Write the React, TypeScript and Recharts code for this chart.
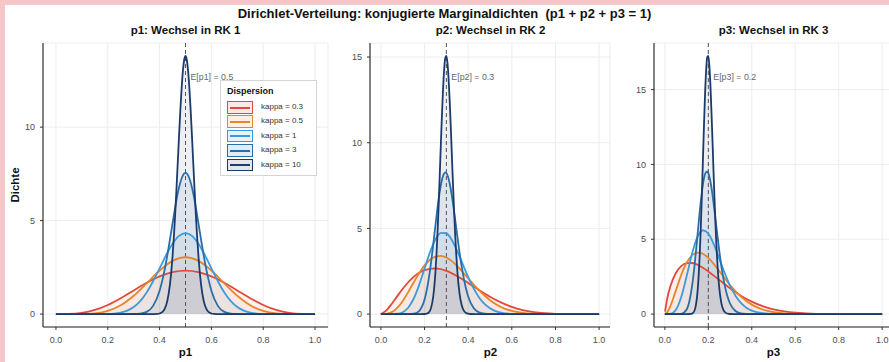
import { ComposedChart, Area, Line, XAxis, YAxis, CartesianGrid, ReferenceLine } from 'recharts';

type Pt = [number, number];

const SERIES_KEYS = ['k03', 'k05', 'k1', 'k3', 'k10'];
const SERIES_LABELS = ['kappa = 0.3', 'kappa = 0.5', 'kappa = 1', 'kappa = 3', 'kappa = 10'];
const SERIES_COLORS = ['#e2493b', '#e5862a', '#3b9bdc', '#2a6ea8', '#1c3a6b'];
const X_TICKS = [0, 0.2, 0.4, 0.6, 0.8, 1];

// p1: Wechsel in RK 1 (Mittelwert 0.5)
const p1_k03: Pt[] = [[0, 0], [0.05, 0.007], [0.1, 0.065], [0.15, 0.221], [0.2, 0.488], [0.25, 0.851], [0.3, 1.265], [0.35, 1.674], [0.4, 2.018], [0.45, 2.247], [0.5, 2.328], [0.55, 2.247], [0.6, 2.018], [0.65, 1.674], [0.7, 1.265], [0.75, 0.851], [0.8, 0.488], [0.85, 0.221], [0.9, 0.065], [0.95, 0.007], [1, 0]];
const p1_k05: Pt[] = [[0, 0], [0.05, 0], [0.1, 0.004], [0.15, 0.038], [0.2, 0.167], [0.25, 0.469], [0.3, 0.979], [0.35, 1.646], [0.4, 2.331], [0.45, 2.847], [0.5, 3.039], [0.55, 2.847], [0.6, 2.331], [0.65, 1.646], [0.7, 0.979], [0.75, 0.469], [0.8, 0.167], [0.85, 0.038], [0.9, 0.004], [0.95, 0], [1, 0]];
const p1_k1: Pt[] = [[0, 0], [0.15, 0], [0.2, 0.008], [0.225, 0.028], [0.25, 0.077], [0.275, 0.183], [0.3, 0.378], [0.325, 0.696], [0.35, 1.158], [0.375, 1.756], [0.4, 2.447], [0.425, 3.152], [0.45, 3.765], [0.475, 4.185], [0.5, 4.334], [0.525, 4.185], [0.55, 3.765], [0.575, 3.152], [0.6, 2.447], [0.625, 1.756], [0.65, 1.158], [0.675, 0.696], [0.7, 0.378], [0.725, 0.183], [0.75, 0.077], [0.775, 0.028], [0.8, 0.008], [0.85, 0], [1, 0]];
const p1_k3: Pt[] = [[0, 0], [0.25, 0], [0.3, 0.004], [0.325, 0.024], [0.35, 0.119], [0.375, 0.441], [0.4, 1.252], [0.4125, 1.921], [0.425, 2.774], [0.4375, 3.775], [0.45, 4.851], [0.4625, 5.89], [0.475, 6.762], [0.4875, 7.345], [0.5, 7.549], [0.5125, 7.345], [0.525, 6.762], [0.5375, 5.89], [0.55, 4.851], [0.5625, 3.775], [0.575, 2.774], [0.5875, 1.921], [0.6, 1.252], [0.625, 0.441], [0.65, 0.119], [0.675, 0.024], [0.7, 0.004], [0.75, 0], [1, 0]];
const p1_k10: Pt[] = [[0, 0], [0.36, 0], [0.38, 0.002], [0.39, 0.009], [0.4, 0.032], [0.41, 0.102], [0.42, 0.29], [0.43, 0.723], [0.44, 1.591], [0.445, 2.251], [0.45, 3.089], [0.455, 4.11], [0.46, 5.305], [0.465, 6.642], [0.47, 8.068], [0.475, 9.509], [0.48, 10.877], [0.485, 12.074], [0.49, 13.009], [0.495, 13.603], [0.5, 13.808], [0.505, 13.603], [0.51, 13.009], [0.515, 12.074], [0.52, 10.877], [0.525, 9.509], [0.53, 8.068], [0.535, 6.642], [0.54, 5.305], [0.545, 4.11], [0.55, 3.089], [0.555, 2.251], [0.56, 1.591], [0.57, 0.723], [0.58, 0.29], [0.59, 0.102], [0.6, 0.032], [0.61, 0.009], [0.62, 0.002], [0.64, 0], [1, 0]];

// p2: Wechsel in RK 2 (Mittelwert 0.3)
const p2_k03: Pt[] = [[0, 0], [0.025, 0.214], [0.05, 0.605], [0.075, 1.047], [0.1, 1.476], [0.125, 1.858], [0.15, 2.173], [0.175, 2.41], [0.2, 2.57], [0.25, 2.667], [0.3, 2.523], [0.35, 2.213], [0.4, 1.817], [0.45, 1.4], [0.5, 1.01], [0.55, 0.68], [0.6, 0.422], [0.65, 0.238], [0.7, 0.119], [0.75, 0.051], [0.8, 0.017], [0.85, 0.004], [0.9, 0.001], [0.95, 0], [1, 0]];
const p2_k05: Pt[] = [[0, 0], [0.025, 0.013], [0.05, 0.114], [0.075, 0.364], [0.1, 0.769], [0.125, 1.284], [0.15, 1.846], [0.175, 2.384], [0.2, 2.84], [0.225, 3.173], [0.25, 3.359], [0.275, 3.398], [0.3, 3.302], [0.325, 3.093], [0.35, 2.801], [0.375, 2.457], [0.4, 2.09], [0.45, 1.381], [0.5, 0.807], [0.55, 0.414], [0.6, 0.183], [0.65, 0.068], [0.7, 0.021], [0.75, 0.005], [0.8, 0.001], [0.85, 0], [1, 0]];
const p2_k1: Pt[] = [[0, 0], [0.025, 0], [0.05, 0.001], [0.075, 0.019], [0.1, 0.11], [0.125, 0.372], [0.15, 0.895], [0.175, 1.691], [0.2, 2.66], [0.225, 3.617], [0.25, 4.361], [0.275, 4.745], [0.3, 4.718], [0.325, 4.325], [0.35, 3.678], [0.375, 2.915], [0.4, 2.159], [0.425, 1.497], [0.45, 0.972], [0.475, 0.591], [0.5, 0.336], [0.525, 0.178], [0.55, 0.088], [0.6, 0.017], [0.65, 0.002], [0.7, 0], [1, 0]];
const p2_k3: Pt[] = [[0, 0], [0.1, 0], [0.125, 0.001], [0.15, 0.021], [0.175, 0.179], [0.1875, 0.418], [0.2, 0.856], [0.2125, 1.56], [0.225, 2.556], [0.2375, 3.804], [0.25, 5.181], [0.2625, 6.498], [0.275, 7.547], [0.2875, 8.154], [0.295, 8.275], [0.3, 8.229], [0.3125, 7.783], [0.325, 6.918], [0.3375, 5.789], [0.35, 4.577], [0.3625, 3.407], [0.375, 2.418], [0.3875, 1.621], [0.4, 1.031], [0.425, 0.356], [0.45, 0.1], [0.475, 0.023], [0.5, 0.004], [0.55, 0], [1, 0]];
const p2_k10: Pt[] = [[0, 0], [0.18, 0], [0.2, 0.004], [0.21, 0.024], [0.22, 0.103], [0.23, 0.362], [0.24, 1.041], [0.25, 2.473], [0.255, 3.56], [0.26, 4.907], [0.265, 6.482], [0.27, 8.215], [0.275, 9.999], [0.28, 11.704], [0.285, 13.179], [0.29, 14.3], [0.295, 14.947], [0.3, 15.066], [0.305, 14.666], [0.31, 13.784], [0.315, 12.525], [0.32, 11.004], [0.325, 9.35], [0.33, 7.693], [0.335, 6.131], [0.34, 4.733], [0.345, 3.541], [0.35, 2.569], [0.36, 1.234], [0.37, 0.526], [0.38, 0.199], [0.39, 0.067], [0.4, 0.02], [0.41, 0.005], [0.43, 0], [1, 0]];

// p3: Wechsel in RK 3 (Mittelwert 0.2)
const p3_k03: Pt[] = [[0.001, 0.163], [0.01, 0.973], [0.025, 1.842], [0.05, 2.73], [0.075, 3.2], [0.1, 3.399], [0.125, 3.412], [0.15, 3.299], [0.175, 3.101], [0.2, 2.851], [0.25, 2.285], [0.3, 1.723], [0.35, 1.231], [0.4, 0.834], [0.45, 0.534], [0.5, 0.322], [0.55, 0.181], [0.6, 0.093], [0.65, 0.044], [0.7, 0.018], [0.75, 0.006], [0.8, 0.002], [0.85, 0], [1, 0]];
const p3_k05: Pt[] = [[0, 0], [0.0125, 0.149], [0.025, 0.517], [0.05, 1.553], [0.075, 2.606], [0.1, 3.427], [0.125, 3.928], [0.15, 4.112], [0.175, 4.03], [0.2, 3.752], [0.225, 3.349], [0.25, 2.883], [0.275, 2.402], [0.3, 1.943], [0.35, 1.171], [0.4, 0.634], [0.45, 0.308], [0.5, 0.133], [0.55, 0.052], [0.6, 0.017], [0.65, 0.004], [0.7, 0.001], [0.75, 0], [1, 0]];
const p3_k1: Pt[] = [[0, 0], [0.025, 0.016], [0.05, 0.274], [0.075, 1.126], [0.1, 2.526], [0.125, 4.031], [0.15, 5.151], [0.175, 5.603], [0.2, 5.383], [0.225, 4.673], [0.25, 3.723], [0.275, 2.749], [0.3, 1.895], [0.325, 1.225], [0.35, 0.745], [0.375, 0.427], [0.4, 0.231], [0.45, 0.056], [0.5, 0.011], [0.55, 0.002], [0.6, 0], [1, 0]];
const p3_k3: Pt[] = [[0, 0], [0.05, 0], [0.075, 0.016], [0.1, 0.308], [0.1125, 0.844], [0.125, 1.849], [0.1375, 3.365], [0.15, 5.238], [0.1625, 7.134], [0.175, 8.645], [0.1875, 9.45], [0.195, 9.528], [0.2, 9.415], [0.2125, 8.627], [0.225, 7.32], [0.2375, 5.783], [0.25, 4.278], [0.2625, 2.973], [0.275, 1.948], [0.2875, 1.207], [0.3, 0.708], [0.325, 0.209], [0.35, 0.051], [0.375, 0.01], [0.4, 0.002], [0.45, 0], [1, 0]];
const p3_k10: Pt[] = [[0, 0], [0.1, 0], [0.12, 0.011], [0.13, 0.08], [0.14, 0.402], [0.15, 1.439], [0.155, 2.431], [0.16, 3.832], [0.165, 5.651], [0.17, 7.828], [0.175, 10.22], [0.18, 12.594], [0.185, 14.7], [0.19, 16.29], [0.195, 17.17], [0.2, 17.25], [0.205, 16.55], [0.21, 15.18], [0.215, 13.34], [0.22, 11.25], [0.225, 9.11], [0.23, 7.092], [0.235, 5.317], [0.24, 3.842], [0.245, 2.677], [0.25, 1.802], [0.26, 0.737], [0.27, 0.264], [0.28, 0.084], [0.29, 0.023], [0.3, 0.006], [0.32, 0], [1, 0]];

const PANEL_CURVES: Pt[][][] = [
  [p1_k03, p1_k05, p1_k1, p1_k3, p1_k10],
  [p2_k03, p2_k05, p2_k1, p2_k3, p2_k10],
  [p3_k03, p3_k05, p3_k1, p3_k3, p3_k10],
];
const PANEL_TITLES = ['p1: Wechsel in RK 1', 'p2: Wechsel in RK 2', 'p3: Wechsel in RK 3'];
const AXIS_TITLES = ['p1', 'p2', 'p3'];
const MEANS = [0.5, 0.3, 0.2];
const MEAN_LABELS = ['E[p1] = 0.5', 'E[p2] = 0.3', 'E[p3] = 0.2'];
const Y_TICKS = [[0, 5, 10], [0, 5, 10, 15], [0, 5, 10, 15]];

const FONT = '"Liberation Sans", Arial, Helvetica, sans-serif';

// Lage der drei Panels auf der Seite
const LAYOUT = [
  { left: 0, width: 340, marginLeft: 13, right: 12 },
  { left: 340, width: 280, marginLeft: 0, right: 10 },
  { left: 620, width: 280, marginLeft: 4, right: 7 },
];
const Y_AXIS_WIDTH = 30;

// alle Kurven eines Panels in eine Tabelle (x, k03, k05, ...)
const mergeCurves = (curves: Pt[][]) => {
  const rows = new Map<number, Record<string, number>>();
  curves.forEach((curve, i) => {
    curve.forEach(([x, y]) => {
      const row = rows.get(x) ?? { x };
      row[SERIES_KEYS[i]] = y;
      rows.set(x, row);
    });
  });
  return [...rows.values()].sort((a, b) => a.x - b.x);
};

const Panel = ({ idx }: { idx: number }) => {
  const curves = PANEL_CURVES[idx];
  const data = mergeCurves(curves);
  const yMax = Math.max(...curves.flat().map((p) => p[1]));
  const yDomain = [-0.05 * yMax, 1.05 * yMax];
  const L = LAYOUT[idx];

  return (
    <div style={{ position: 'absolute', left: L.left, top: 0 }}>
      <ComposedChart
        width={L.width}
        height={362}
        data={data}
        margin={{ top: 43, right: L.right, bottom: 0, left: L.marginLeft }}
      >
        <CartesianGrid stroke="#ebebeb" strokeWidth={0.9} />
        <XAxis
          dataKey="x"
          type="number"
          domain={[-0.05, 1.05]}
          ticks={X_TICKS}
          interval={0}
          allowDataOverflow
          tickFormatter={(v: number) => v.toFixed(1)}
          height={35}
          tickSize={3}
          tickMargin={7}
          axisLine={{ stroke: '#222', strokeWidth: 1.1 }}
          tickLine={{ stroke: '#333' }}
          tick={{ fill: '#4d4d4d', fontSize: 9, fontFamily: FONT }}
        />
        <YAxis
          type="number"
          domain={yDomain}
          ticks={Y_TICKS[idx]}
          interval={0}
          allowDataOverflow
          width={Y_AXIS_WIDTH}
          tickSize={3}
          tickMargin={5}
          axisLine={{ stroke: '#222', strokeWidth: 1.1 }}
          tickLine={{ stroke: '#333' }}
          tick={{ fill: '#4d4d4d', fontSize: 9, fontFamily: FONT }}
        />
        {SERIES_KEYS.map((k, i) => (
          <Area
            key={`area-${k}`}
            dataKey={k}
            type="monotone"
            stroke="none"
            fill={SERIES_COLORS[i]}
            fillOpacity={0.075}
            connectNulls
            dot={false}
            activeDot={false}
            isAnimationActive={false}
          />
        ))}
        <ReferenceLine
          x={MEANS[idx]}
          stroke="#555"
          strokeWidth={1}
          strokeDasharray="4 3"
          label={(props: any) => {
            const vb = props.viewBox || {};
            return (
              <text x={(vb.x ?? 0) + 5} y={(vb.y ?? 0) + 37} fill="#666" fontSize={8.8} fontFamily={FONT}>
                {MEAN_LABELS[idx]}
              </text>
            );
          }}
        />
        {SERIES_KEYS.map((k, i) => (
          <Line
            key={`line-${k}`}
            dataKey={k}
            type="monotone"
            stroke={SERIES_COLORS[i]}
            strokeWidth={1.8}
            connectNulls
            dot={false}
            activeDot={false}
            isAnimationActive={false}
          />
        ))}
      </ComposedChart>
    </div>
  );
};

const LegendBox = () => (
  <div
    style={{
      position: 'absolute',
      left: 220,
      top: 80,
      width: 97,
      height: 96,
      background: '#fff',
      border: '1px solid #d4d4d4',
      fontFamily: FONT,
      boxSizing: 'border-box',
    }}
  >
    <div style={{ position: 'absolute', left: 6, top: 5, fontSize: 9, fontWeight: 'bold', color: '#111' }}>Dispersion</div>
    {SERIES_LABELS.map((label, i) => (
      <div key={label} style={{ position: 'absolute', left: 6, top: 20 + i * 14.4, height: 13, width: 90 }}>
        <div
          style={{
            position: 'absolute',
            left: 0,
            top: 0,
            width: 26,
            height: 12.5,
            boxSizing: 'border-box',
            border: `1px solid ${SERIES_COLORS[i]}`,
            background: `${SERIES_COLORS[i]}1f`,
          }}
        >
          <div style={{ position: 'absolute', left: 2, right: 2, top: 4.5, height: 2, background: SERIES_COLORS[i] }} />
        </div>
        <div style={{ position: 'absolute', left: 34, top: 1, fontSize: 8, color: '#333', whiteSpace: 'nowrap' }}>{label}</div>
      </div>
    ))}
  </div>
);

const PANEL_CENTERS = [185.5, 490.5, 773.5];

const App = () => (
  <div
    style={{
      position: 'fixed',
      left: 0,
      top: 0,
      width: 889,
      height: 362,
      overflow: 'hidden',
      background: '#f5c7c9',
      fontFamily: FONT,
    }}
  >
    <div style={{ position: 'absolute', left: 5, top: 5, right: 0, bottom: 0, background: '#fff' }} />
    {[0, 1, 2].map((i) => (
      <Panel key={i} idx={i} />
    ))}
    <LegendBox />
    <div
      style={{
        position: 'absolute',
        left: 0,
        width: 889,
        top: 6,
        textAlign: 'center',
        fontSize: 13,
        fontWeight: 'bold',
        color: '#111',
        whiteSpace: 'nowrap',
      }}
    >
      Dirichlet-Verteilung: konjugierte Marginaldichten&nbsp;&nbsp;(p1 + p2 + p3 = 1)
    </div>
    {PANEL_TITLES.map((t, i) => (
      <div
        key={t}
        style={{
          position: 'absolute',
          left: PANEL_CENTERS[i] - 100,
          width: 200,
          top: 24,
          textAlign: 'center',
          fontSize: 11.5,
          fontWeight: 'bold',
          color: '#111',
          whiteSpace: 'nowrap',
        }}
      >
        {t}
      </div>
    ))}
    {AXIS_TITLES.map((t, i) => (
      <div
        key={t}
        style={{
          position: 'absolute',
          left: PANEL_CENTERS[i] - 30,
          width: 60,
          top: 346,
          textAlign: 'center',
          fontSize: 11.5,
          fontWeight: 'bold',
          color: '#111',
        }}
      >
        {t}
      </div>
    ))}
    <div
      style={{
        position: 'absolute',
        left: 15 - 30,
        top: 185 - 8,
        width: 60,
        height: 16,
        lineHeight: '16px',
        textAlign: 'center',
        fontSize: 11.5,
        fontWeight: 'bold',
        color: '#111',
        transform: 'rotate(-90deg)',
      }}
    >
      Dichte
    </div>
  </div>
);

export default App;
